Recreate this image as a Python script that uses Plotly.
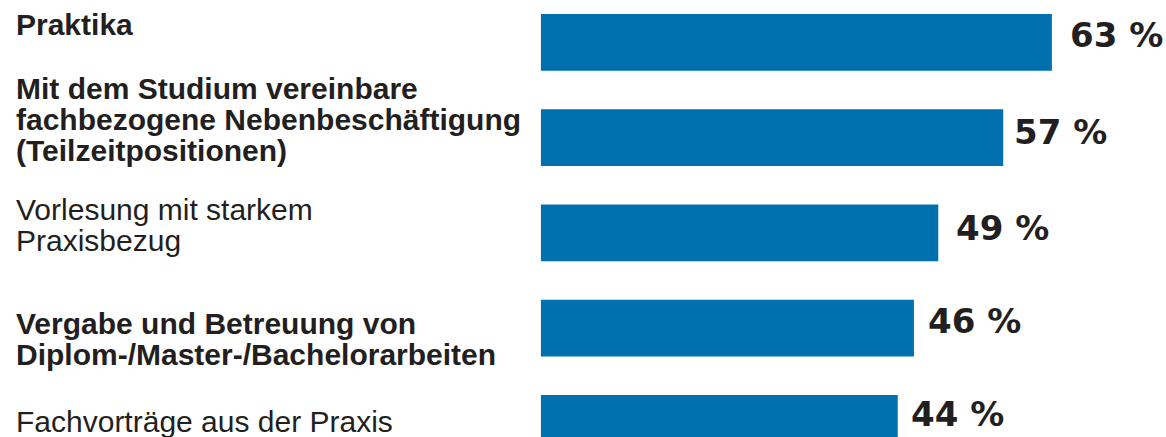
import plotly.graph_objects as go

# ---------------- data ----------------
categories = [
    "Praktika",
    "Mit dem Studium vereinbare<br>fachbezogene Nebenbeschäftigung<br>(Teilzeitpositionen)",
    "Vorlesung mit starkem<br>Praxisbezug",
    "Vergabe und Betreuung von<br>Diplom-/Master-/Bachelorarbeiten",
    "Fachvorträge aus der Praxis",
]
values = [63, 57, 49, 46, 44]
value_labels = ["63 %", "57 %", "49 %", "46 %", "44 %"]

# ---------------- style ----------------
label_bold = [True, True, False, True, False]
label_first_dy = [-18, -49.5, -23, -5, -2]   # px from bar centre to first line centre
label_line_pitch = 31
value_dy = [-7.5, -5.5, -5, -7.5, -9.5]      # px from bar centre to value text centre
value_dx = [16, 9, 16, 12, 11]                # px gap between bar end and value text
BAR_COLOR = "#0070AF"
TEXT_COLOR = "#231F20"
W, H = 1166, 437
BAR_LEFT = 540.7
PX_PER_PCT = 8.114
BAR_PITCH = 95.25
FIRST_BAR_CENTER = 42.3

ys = list(range(len(values)))

fig = go.Figure()
fig.add_trace(go.Bar(
    x=values, y=ys, orientation="h", width=56.7 / BAR_PITCH,
    marker=dict(color=BAR_COLOR, line=dict(width=0)),
    hoverinfo="skip",
))

annotations = []
for i, (lab, v, vl) in enumerate(zip(categories, values, value_labels)):
    lines = lab.split("<br>")
    for k, line in enumerate(lines):
        annotations.append(dict(
            text=line, xref="paper", yref="y", x=0, y=i, xshift=13.5,
            yshift=-(label_first_dy[i] + k * label_line_pitch),
            xanchor="left", yanchor="middle", showarrow=False,
            font=dict(family="Liberation Sans", size=30, color=TEXT_COLOR,
                      weight="bold" if label_bold[i] else "normal"),
        ))
    annotations.append(dict(
        text=vl, xref="x", yref="y", x=v, y=i, xshift=value_dx[i],
        yshift=-value_dy[i], xanchor="left", yanchor="middle", showarrow=False,
        font=dict(family="DejaVu Sans", size=34, color=TEXT_COLOR, weight="bold"),
    ))

x_max = (W - BAR_LEFT) / PX_PER_PCT
y_top = -FIRST_BAR_CENTER / BAR_PITCH
y_bot = (len(values) - 1) + (H - (FIRST_BAR_CENTER + BAR_PITCH * (len(values) - 1))) / BAR_PITCH

fig.update_layout(
    width=W, height=H, margin=dict(l=0, r=0, t=0, b=0),
    paper_bgcolor="white", plot_bgcolor="white", showlegend=False,
    xaxis=dict(domain=[BAR_LEFT / W, 1], range=[0, x_max], visible=False, fixedrange=True),
    yaxis=dict(range=[y_bot, y_top], visible=False, fixedrange=True),
    annotations=annotations,
)

fig.write_html("out.html", config={"displayModeBar": False})
